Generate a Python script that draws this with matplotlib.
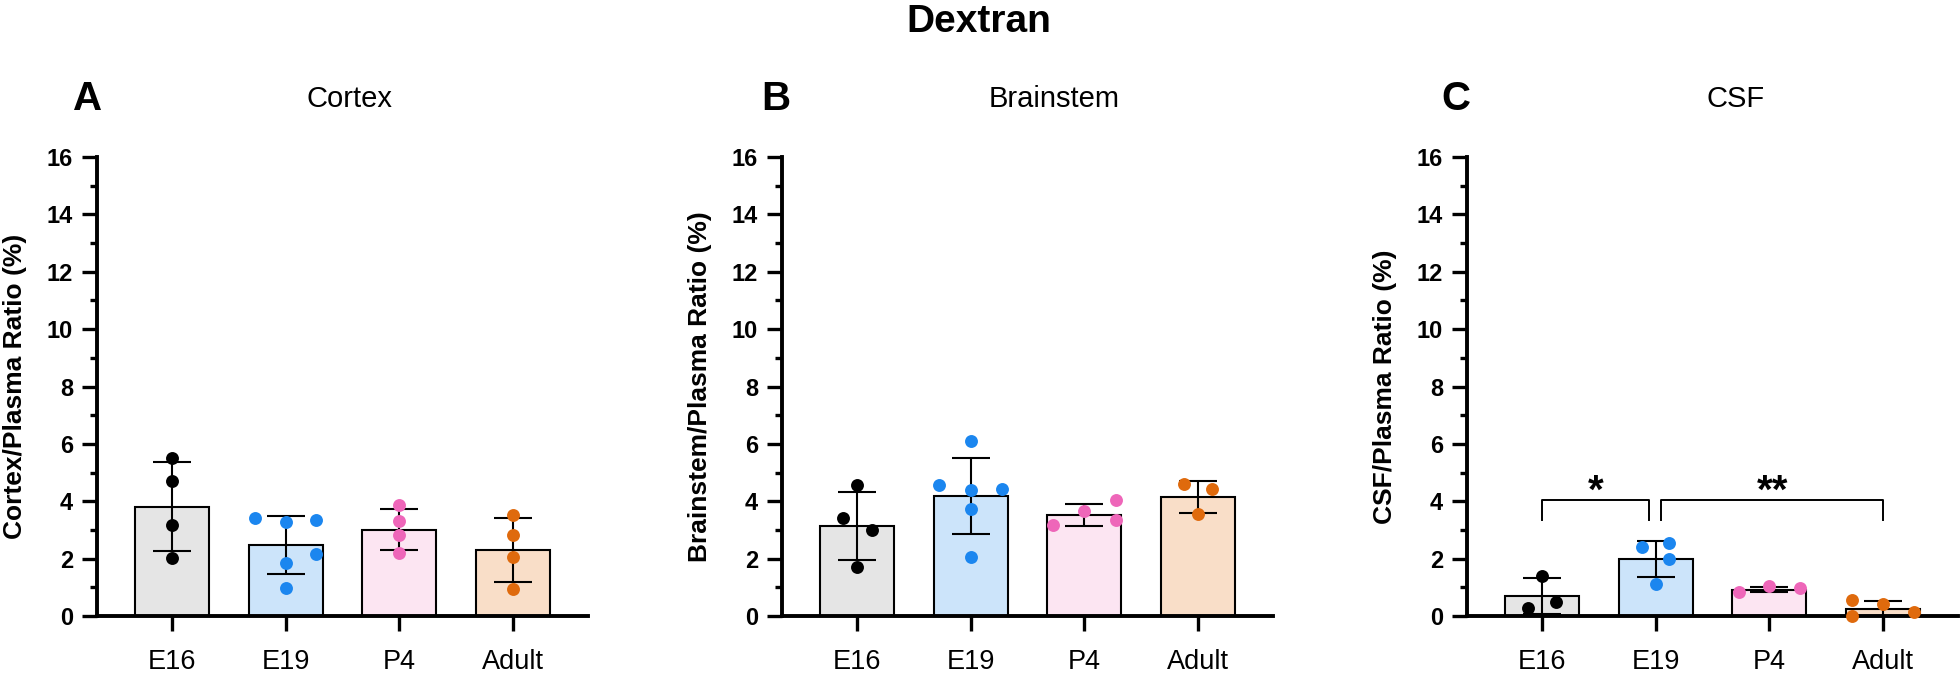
import numpy as np
import matplotlib
matplotlib.use('Agg')
import matplotlib.pyplot as plt
from matplotlib.ticker import MultipleLocator

plt.rcParams['font.family'] = ['Liberation Sans', 'DejaVu Sans']

# data
groups = ['E16', 'E19', 'P4', 'Adult']

cortex_mean = [3.81, 2.48, 3.01, 2.31]
cortex_sd = [1.55, 1.00, 0.72, 1.11]
cortex_points = [[5.51, 4.72, 3.16, 2.02],
                 [3.40, 3.26, 3.36, 2.16, 1.84, 0.99],
                 [3.88, 3.32, 2.83, 2.18],
                 [3.53, 2.83, 2.07, 0.93]]

brainstem_mean = [3.13, 4.19, 3.53, 4.15]
brainstem_sd = [1.18, 1.32, 0.38, 0.55]
brainstem_points = [[4.55, 3.40, 3.01, 1.70],
                    [6.10, 4.55, 4.38, 4.43, 3.73, 2.04],
                    [3.17, 3.66, 4.05, 3.36],
                    [4.59, 4.43, 3.56]]

csf_mean = [0.70, 1.99, 0.91, 0.26]
csf_sd = [0.62, 0.64, 0.09, 0.26]
csf_points = [[1.40, 0.49, 0.27],
              [2.39, 2.56, 1.98, 1.11],
              [0.85, 1.03, 0.97],
              [0.56, 0.43, 0.01, 0.15]]

# (group a, group b, label)
csf_sig = [(0, 1, '*'), (1, 3, '**')]

# horizontal scatter of the dots (layout only)
cortex_jitter = [[0, 0, 0, 0], [-0.27, 0, 0.27, 0.27, 0, 0], [0, 0, 0, 0], [0, 0, 0, 0]]
brainstem_jitter = [[0, -0.12, 0.13, 0], [0, -0.28, 0, 0.28, 0, 0], [-0.28, 0, 0.28, 0.28], [-0.12, 0.12, 0]]
csf_jitter = [[0, 0.12, -0.12], [-0.12, 0.12, 0.12, 0], [-0.27, 0, 0.27], [-0.27, 0, -0.27, 0.27]]

bar_colors = ['#e5e5e5', '#cce4fa', '#fce5f2', '#f9dec8']
dot_colors = ['#000000', '#1b86ef', '#ee66b9', '#df6a0d']

W, H = 1960, 676
fig = plt.figure(figsize=(W / 100, H / 100), dpi=100)


def draw_panel(left_px, means, sds, points, jitter, ylabel):
    ax = fig.add_axes([left_px / W, 1 - 616 / H, 491 / W, (616 - 157) / H])
    x = np.arange(len(groups))
    ax.bar(x, means, width=0.65, color=bar_colors, edgecolor='black', linewidth=1.5, zorder=2)
    ax.errorbar(x, means, yerr=sds, fmt='none', ecolor='black', elinewidth=1.5,
                capsize=13.5, capthick=1.5, zorder=3)
    for i in range(len(groups)):
        ax.plot(x[i] + np.array(jitter[i]), points[i], 'o', color=dot_colors[i],
                markersize=9.3, markeredgewidth=0, zorder=4, clip_on=False)

    ax.set_xlim(-0.66, 3.66)
    ax.set_ylim(0, 16)
    ax.set_yticks(range(0, 17, 2))
    ax.yaxis.set_minor_locator(MultipleLocator(1))
    ax.set_xticks(x, groups)
    for lab in ax.get_yticklabels():
        lab.set_fontweight('bold')

    ax.tick_params(axis='y', which='major', length=10.8, width=2.4, pad=6.5, labelsize=17)
    ax.tick_params(axis='y', which='minor', length=5, width=2.4)
    ax.tick_params(axis='x', length=10.8, width=2.4, pad=13, labelsize=19.5)

    for s in ['top', 'right']:
        ax.spines[s].set_visible(False)
    for s in ['left', 'bottom']:
        ax.spines[s].set_linewidth(2.8)

    ax.set_ylabel(ylabel, fontsize=19, fontweight='bold')
    ax.yaxis.set_label_coords(-70 / 491, 0.5)
    return ax


ax_a = draw_panel(97, cortex_mean, cortex_sd, cortex_points, cortex_jitter, 'Cortex/Plasma Ratio (%)')
ax_b = draw_panel(782, brainstem_mean, brainstem_sd, brainstem_points, brainstem_jitter, 'Brainstem/Plasma Ratio (%)')
ax_c = draw_panel(1467, csf_mean, csf_sd, csf_points, csf_jitter, 'CSF/Plasma Ratio (%)')

# significance brackets on the CSF panel
for a, b, label in csf_sig:
    x0 = a + (0.05 if a > 0 else 0)
    x1 = b - (0.06 if b < 3 else 0)
    ax_c.plot([x0, x0, x1, x1], [3.35, 4.05, 4.05, 3.35], color='black', lw=1.4, zorder=5)
    ax_c.text((x0 + x1) / 2, 3.95, label, ha='center', va='baseline', fontsize=29, fontweight='bold')

# titles and panel letters
fig.text(979 / W, 1 - 32 / H, 'Dextran', ha='center', va='baseline', fontsize=28, fontweight='bold')
for xl, letter, xt, title in [(88, 'A', 349, 'Cortex'), (776, 'B', 1054, 'Brainstem'), (1456, 'C', 1736, 'CSF')]:
    fig.text(xl / W, 1 - 110 / H, letter, ha='center', va='baseline', fontsize=29, fontweight='bold')
    fig.text(xt / W, 1 - 107 / H, title, ha='center', va='baseline', fontsize=21)

fig.savefig('out.png', dpi=100)
